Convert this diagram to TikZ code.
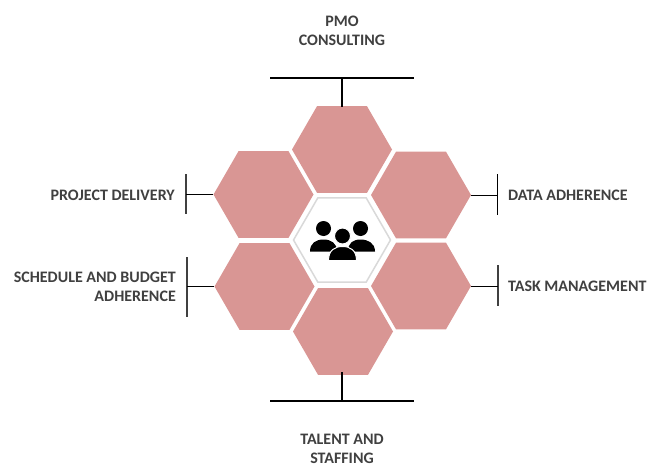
\documentclass[tikz,border=0pt]{standalone}
\usepackage{fontspec}
\setmainfont{Carlito}
\usetikzlibrary{shapes.geometric,calc}
\definecolor{hexrose}{HTML}{D99694}
\definecolor{labelgray}{HTML}{404040}
\definecolor{hexrim}{HTML}{D9D9D9}
\tikzset{
    hexcell/.style = {
        regular polygon,
        regular polygon sides=6,
        minimum size=100pt,
        inner sep=0pt,
        fill = hexrose,
        },
    hexhub/.style = {
        regular polygon,
        regular polygon sides=6,
        minimum size=97pt,
        inner sep=0pt,
        draw = hexrim,
        line width=1.5pt,
        fill = white,
        },
    label/.style = {
        text = labelgray,
        font = \bfseries\fontsize{16}{19}\selectfont,
        inner sep=0pt,
        },
    bar/.style = {
        draw = black,
        line width=1.6pt,
        },
    tick/.style = {
        draw = labelgray,
        line width=1.2pt,
        },
    thin tick/.style = {
        draw = black,
        line width=0.9pt,
        },
    stem/.style = {
        draw = black,
        line width=0.9pt,
        },
    person/.style = {
        fill = black,
        draw = white,
        line width=1pt,
    },
}

\begin{document}
\begin{tikzpicture}[x=1pt, y=-1pt]
            \useasboundingbox (0,0) rectangle (660,468);

            \node[hexhub] (hub) at (342,240) {};
            \node[hexcell] (pmo) at (342,149.5) {};
            \node[hexcell] (delivery) at (263.5,194.5) {};
            \node[hexcell] (data) at (421,195) {};
            \node[hexcell] (schedule) at (264.5,286.5) {};
            \node[hexcell] (task) at (421,286) {};
            \node[hexcell] (talent) at (343,331.5) {};

            % top and bottom bars
            \coordinate (pmoL) at (270,78);
            \coordinate (pmoR) at (414,78);
            \coordinate (pmoM) at (342,78);
            \coordinate (talentL) at (270,401);
            \coordinate (talentR) at (414,401);
            \coordinate (talentM) at (342,401);
            \path[bar] (pmoL) -- (pmoR);
            \path[bar] (talentL) -- (talentR);
            \path[bar] (pmoM) -- ($(pmoM |- pmo.north)+(0,1)$);
            \path[bar] (talentM) -- ($(talentM |- talent.south)+(0,-3)$);

            % side ticks
            \coordinate (deliveryT) at (186,174);
            \coordinate (deliveryB) at (186,214);
            \coordinate (scheduleT) at (187,257);
            \coordinate (scheduleB) at (187,317);
            \coordinate (dataT) at (497.5,174);
            \coordinate (dataB) at (497.5,215);
            \coordinate (taskT) at (498,265);
            \coordinate (taskB) at (498,306);
            \path[tick] (deliveryT) -- (deliveryB);
            \path[tick] (scheduleT) -- (scheduleB);
            \path[thin tick] (dataT) -- (dataB);
            \path[tick] (taskT) -- (taskB);
            \path[stem] (delivery.corner 3) -- (delivery.corner 3 -| deliveryT);
            \path[stem] (schedule.corner 3) -- (schedule.corner 3 -| scheduleT);
            \path[stem] (data.corner 6) -- (data.corner 6 -| dataT);
            \path[stem] (task.corner 6) -- (task.corner 6 -| taskT);

            \node[label, align=center] (pmotext) at (342,31) {PMO\\CONSULTING};
            \node[label, align=center] (talenttext) at (342,449) {TALENT AND\\STAFFING};
            \node[label, anchor=east] (deliverytext) at (175,195) {PROJECT DELIVERY};
            \node[label, anchor=east, align=right] (scheduletext) at (176,287) {SCHEDULE AND BUDGET\\ADHERENCE};
            \node[label, anchor=west] (datatext) at (508,195) {DATA ADHERENCE};
            \node[label, anchor=west] (tasktext) at (508,286) {TASK MANAGEMENT};

            % people icon
            \fill (323.5,228.5) circle (7.5pt);
            \fill (360.5,228.5) circle (7.5pt);
            \fill (310,251.5) .. controls (310,243) and (316,239.5) .. (323.5,239.5)
                .. controls (331,239.5) and (337,243) .. (337,251.5) -- cycle;
            \fill (348,251.5) .. controls (348,243) and (353,239.5) .. (360.5,239.5)
                .. controls (368,239.5) and (375,243) .. (375,251.5) -- cycle;
            \path[person] (342.5,236) circle (8pt);
            \path[person] (328.5,260.5) .. controls (328.5,250) and (335,246.5) .. (342.5,246.5)
                .. controls (350,246.5) and (356.5,250) .. (356.5,260.5) -- cycle;
        \end{tikzpicture}
\end{document}
